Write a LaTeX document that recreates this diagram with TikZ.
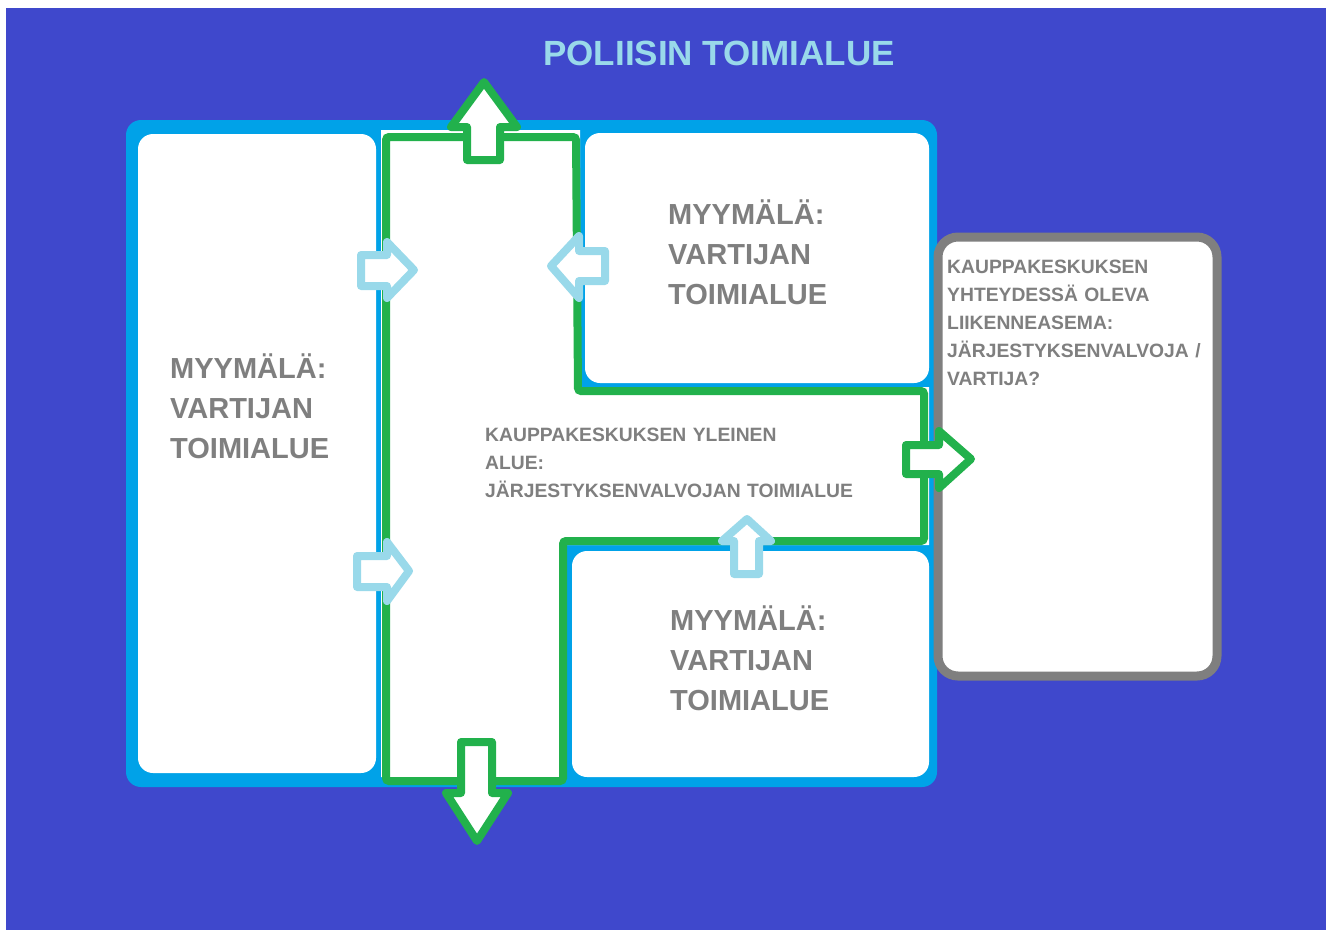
\documentclass[tikz,border=0pt]{standalone}
\usepackage{fontspec}
\setmainfont{Liberation Sans}
\definecolor{bgblue}{HTML}{3F48CC}
\definecolor{framecyan}{HTML}{00A2E8}
\definecolor{corrgreen}{HTML}{22B14C}
\definecolor{lightb}{HTML}{99D9EA}
\definecolor{labelgray}{HTML}{7F7F7F}
\tikzset{
  storebox/.style={fill=white, rounded corners=15pt},
  greenarrow/.style={draw=corrgreen, fill=white, line width=8pt, line join=round},
  bluearrow/.style={draw=lightb, fill=white, line width=8pt, line join=round},
  storetext/.style={font=\fontsize{29}{40}\selectfont\bfseries, text=labelgray, inner sep=0pt, text width=220pt, align=left, anchor=base west},
  smalltext/.style={font=\fontsize{19.3}{28}\selectfont\bfseries, text=labelgray, inner sep=0pt, align=left, anchor=base west},
}
\begin{document}
\begin{tikzpicture}[x=1pt,y=-1pt]
\useasboundingbox (0,0) rectangle (1333,930);
\fill[white] (0,0) rectangle (1333,930);
\fill[bgblue] (6,8) rectangle (1326,930);
% cyan frame
\fill[framecyan, rounded corners=15pt] (126,120) rectangle (937,787);
% corridor
\fill[white] (381,130) -- (580,130) -- (580,387) -- (929,387) -- (929,545) -- (566,545) -- (566,777) -- (381,777) -- cycle;
% stores
\fill[storebox] (138,134) rectangle (376,773);
\fill[storebox] (585,133) rectangle (929,383);
\fill[storebox] (572,551) rectangle (929,777);
% corridor outline
\draw[corrgreen, line width=8pt, rounded corners=3pt] (386,137) -- (576,137) -- (578,391) -- (924,391) -- (924,541) -- (563,541) -- (563,781) -- (386,781) -- cycle;
% station box
\draw[labelgray, fill=white, line width=9pt, rounded corners=20pt] (938,237) rectangle (1217,676);
% green exit arrows
\draw[greenarrow] (467,160) -- (467,127) -- (451,127) -- (484,82) -- (517,127) -- (500,127) -- (500,160) -- cycle;
\draw[greenarrow] (461,742) -- (492,742) -- (492,793) -- (508,793) -- (477,841) -- (446,793) -- (461,793) -- cycle;
\draw[greenarrow] (906,445) -- (906,474) -- (939,474) -- (939,488) -- (971,459) -- (939,431) -- (939,445) -- cycle;
% light blue arrows
\draw[bluearrow] (361,255) -- (387,255) -- (387,242) -- (414,270) -- (387,298) -- (387,286) -- (361,286) -- cycle;
\draw[bluearrow] (605,251) -- (579,251) -- (579,236) -- (551,266) -- (579,298) -- (579,281) -- (605,281) -- cycle;
\draw[bluearrow] (357,556) -- (387,556) -- (387,542) -- (409,571) -- (387,601) -- (387,587) -- (357,587) -- cycle;
\draw[bluearrow] (734,574) -- (734,541) -- (722,541) -- (747,519) -- (771,541) -- (759,541) -- (759,574) -- cycle;
% texts
\node[font=\fontsize{35}{40}\selectfont\bfseries, text=lightb, inner sep=0pt, anchor=base] (title) at (719,65) {POLIISIN TOIMIALUE};
\node[storetext] (storeleft) at (170,378) {MYYMÄLÄ:\\VARTIJAN\\TOIMIALUE};
\node[storetext] (storetop) at (668,224) {MYYMÄLÄ:\\VARTIJAN\\TOIMIALUE};
\node[storetext] (storebottom) at (670,630) {MYYMÄLÄ:\\VARTIJAN\\TOIMIALUE};
\node[smalltext, text width=420pt] (corridor) at (485,441) {KAUPPAKESKUKSEN YLEINEN\\ALUE:\\JÄRJESTYKSENVALVOJAN TOIMIALUE};
\node[smalltext, text width=268pt] (station) at (947,273) {KAUPPAKESKUKSEN\\YHTEYDESSÄ OLEVA\\LIIKENNEASEMA:\\JÄRJESTYKSENVALVOJA /\\VARTIJA?};
\end{tikzpicture}
\end{document}
